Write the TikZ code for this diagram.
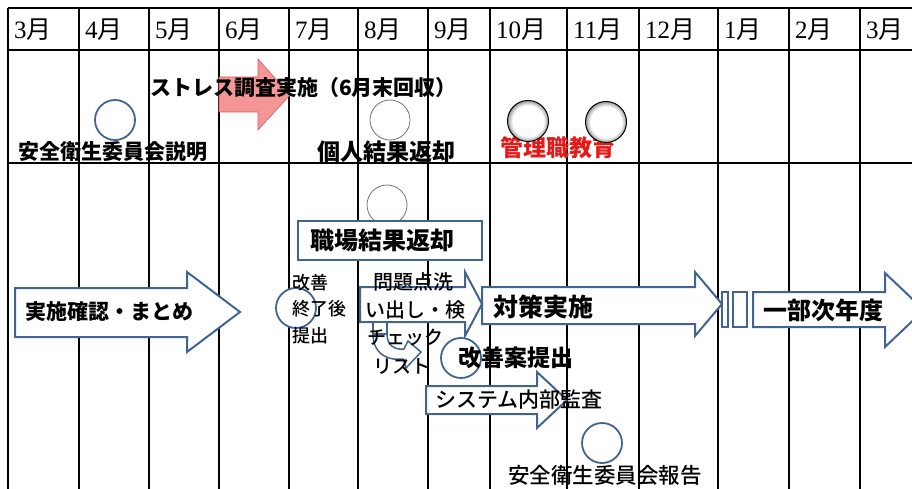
\documentclass[tikz,border=0pt]{standalone}
\usepackage{fontspec}
\usepackage{xcolor}
\setmainfont{Liberation Serif}
\newfontfamily\cjk{Noto Sans CJK JP}
\newfontfamily\cjkm{Noto Sans CJK JP Medium}
\definecolor{ShapeBlue}{RGB}{65,100,145}
\definecolor{StressPink}{RGB}{245,150,150}
\definecolor{StressEdge}{RGB}{205,95,95}
\definecolor{EduRed}{RGB}{230,25,25}
\pgfdeclareradialshading{ballrim}{\pgfpoint{0bp}{0bp}}{color(0bp)=(white); color(19bp)=(white); color(25bp)=(black!40); color(50bp)=(black!40)}

\begin{document}
\begin{tikzpicture}[x=1pt, y=-1pt,
    gridline/.style={line width=1.3pt, black},
    blockarrow/.style={draw=ShapeBlue, line width=2pt, fill=white, line join=miter},
    dot/.style={draw=ShapeBlue, line width=1.8pt, fill=white},
    thindot/.style={draw=black!55, line width=0.8pt, fill=white},
    balldot/.style={draw=black, line width=1pt, shading=ballrim},
    monthlbl/.style={anchor=west, inner sep=0pt, font=\fontsize{25}{25}\selectfont},
    lbl/.style={anchor=west, inner sep=0pt, font=\cjkm\fontsize{#1}{#1}\selectfont},
    lbl/.default=21,
    blbl/.style={anchor=west, inner sep=0pt, font=\cjk\bfseries\fontsize{#1}{#1}\selectfont},
    blbl/.default=21]

    \useasboundingbox (0,0) rectangle (912,489);

    % month grid
    \foreach \xl/\m [count=\i] in {8/3,79/4,149/5,219/6,289/7,358/8,428/9,490/10,567/11,639/12,718/1,789/2,860/3} {
        \draw[gridline] (\xl,8) -- (\xl,489);
        \node[monthlbl] (m\i) at (\xl+6,30) {\m{\cjk 月}};
    }
    \draw[line width=2.2pt] (8,8) -- (8,489);
    \draw[line width=2.5pt] (8,8) -- (912,8);
    \draw[gridline] (8,50) -- (912,50);
    \draw[gridline] (8,163) -- (912,163);

    % upper row
    \draw[fill=StressPink, draw=StressEdge, line width=0.6pt]
        (219,77) -- (258,77) -- (258,59) -- (290,95) -- (258,130) -- (258,112) -- (219,112) -- cycle;
    \draw[dot] (115,120) circle (20);
    \draw[thindot] (390,120) circle (20);
    \node[blbl] (setsumei) at (18,152) {安全衛生委員会説明};
    \node[blbl] (stress) at (150,88) {ストレス調査実施（6月末回収）};
    \node[blbl=23] (kojin) at (317,152) {個人結果返却};
    \node[blbl=23, text=EduRed] (kanri) at (500,148) {管理職教育};
    \draw[balldot] (528,121) circle (20.5);
    \draw[balldot] (606,122) circle (20.5);

    % lower rows
    \draw[thindot] (387,205) circle (20);
    \draw[blockarrow] (298,221) rectangle (482,260);
    \draw[blockarrow]
        (15,288) -- (187,288) -- (187,272) -- (240,312) -- (187,352) -- (187,337) -- (15,337) -- cycle;
    \draw[blockarrow]
        (360,287) -- (465,287) -- (465,272) -- (482,304) -- (465,336) -- (465,322) -- (360,322) -- cycle;
    \draw[blockarrow]
        (482,287) -- (695,287) -- (695,272) -- (722,304) -- (695,336) -- (695,324) -- (482,324) -- cycle;
    \draw[blockarrow] (722,292) rectangle (728,327);
    \draw[blockarrow] (733,292) rectangle (747,327);
    \draw[blockarrow]
        (753,292) -- (885,292) -- (885,273) -- (924,310) -- (885,347) -- (885,327) -- (753,327) -- cycle;
    \draw[blockarrow]
        (426,386) -- (537,386) -- (537,372) -- (567,400) -- (537,428) -- (537,414) -- (426,414) -- cycle;
    % check list callout
    \draw[blockarrow, line width=1.5pt] (373,322) rectangle (387,334);
    \draw[blockarrow, line width=1.5pt]
        (373,334) .. controls (373,352) and (385,361) .. (403,359) -- (406,368)
        -- (421,352) -- (408,341) -- (404,349) .. controls (394,350) and (387,345) .. (387,334) -- cycle;
    \draw[dot] (296,308) circle (20);
    \draw[dot] (461,358) circle (20);
    \draw[dot] (602,443) circle (20);

    \node[blbl=24] (shokuba) at (310,240) {職場結果返却};
    \node[blbl] (matome) at (25,312) {実施確認・まとめ};
    \node[lbl=18, align=left, font=\cjkm\fontsize{18}{26.5}\selectfont] (kaizen) at (292,309) {改善\\終了後\\提出};
    \node[lbl=20] (mondai1) at (373,282) {問題点洗};
    \node[lbl=20] (mondai2) at (365,310) {い出し・検};
    \node[blbl=25] (taisaku) at (493,307) {対策実施};
    \node[blbl=24] (jinendo) at (763,310) {一部次年度};
    \node[lbl=19] (check1) at (367,338) {チェック};
    \node[lbl=19] (check2) at (373,367) {リスト};
    \node[blbl=23] (kaizenan) at (458,358) {改善案提出};
    \node[lbl=21] (kansa) at (435,400) {システム内部監査};
    \node[lbl=21.5] (houkoku) at (508,475) {安全衛生委員会報告};

\end{tikzpicture}
\end{document}
